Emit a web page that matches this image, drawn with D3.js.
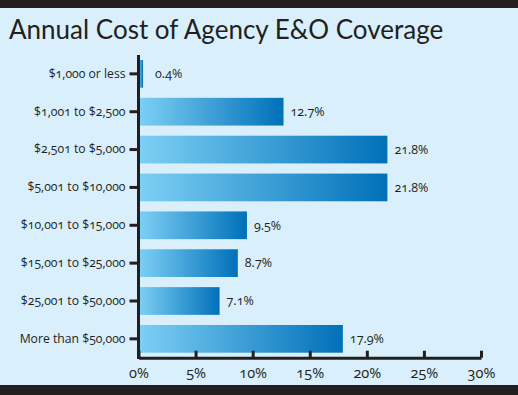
<!DOCTYPE html>
<html>
<head>
<meta charset="utf-8">
<script src="https://cdn.jsdelivr.net/npm/d3@7"></script>
<style>
  body { margin: 0; background: #231f20; }
  svg { display: block; }
  text { font-family: "Open Sans", Lato, sans-serif; fill: #231f20; font-feature-settings: "onum"; }
</style>
</head>
<body>
<script>
var categories = ['$1,000 or less', '$1,001 to $2,500', '$2,501 to $5,000', '$5,001 to $10,000',
  '$10,001 to $15,000', '$15,001 to $25,000', '$25,001 to $50,000', 'More than $50,000'];
var values = [0.4, 12.7, 21.8, 21.8, 9.5, 8.7, 7.1, 17.9];
var xTicks = [0, 5, 10, 15, 20, 25, 30];

var width = 518, height = 395;
var font = '"Open Sans", Lato, sans-serif';
var svg = d3.select('body').append('svg').attr('width', width).attr('height', height);

// background panel between the black bands
svg.append('rect').attr('x', 0).attr('y', 0).attr('width', width).attr('height', height).attr('fill', '#231f20');
svg.append('rect').attr('x', 0).attr('y', 8).attr('width', width).attr('height', 377).attr('fill', '#d9effc');

var grad = svg.append('defs').append('linearGradient').attr('id', 'barGrad')
  .attr('x1', '0%').attr('y1', '0%').attr('x2', '100%').attr('y2', '0%');
grad.append('stop').attr('offset', '0%').attr('stop-color', '#7dd0f5');
grad.append('stop').attr('offset', '100%').attr('stop-color', '#0070b9');

svg.append('text')
  .attr('x', 9).attr('y', 39)
  .attr('font-size', 26)
  .style('font-family', 'Lato, sans-serif')
  .text('Annual Cost of Agency E&O Coverage');

var x = d3.scaleLinear().domain([0, 30]).range([138.5, 481]);
var y = d3.scaleBand().domain(categories).range([55, 357.7])
  .paddingInner(0.268).paddingOuter(0.132);

svg.selectAll('rect.bar').data(values)
  .enter().append('rect')
  .attr('class', 'bar')
  .attr('x', x(0))
  .attr('y', function(d, i) { return y(categories[i]); })
  .attr('width', function(d) { return x(d) - x(0); })
  .attr('height', y.bandwidth())
  .attr('fill', 'url(#barGrad)');

svg.selectAll('text.val').data(values)
  .enter().append('text')
  .attr('class', 'val')
  .attr('x', function(d) { return x(d) + (d < 1 ? 12 : 7); })
  .attr('y', function(d, i) { return y(categories[i]) + y.bandwidth() / 2 + 1; })
  .attr('dominant-baseline', 'middle')
  .attr('font-size', 12.5)
  .text(function(d) { return d.toFixed(1) + '%'; });

// y axis
var yAxis = svg.append('g').attr('transform', 'translate(' + x(0) + ',0)')
  .call(d3.axisLeft(y).tickSize(9).tickPadding(4).tickSizeOuter(0));
yAxis.select('.domain').remove();
yAxis.selectAll('.tick line').attr('stroke', '#231f20').attr('stroke-width', 3);
yAxis.selectAll('.tick text').attr('font-size', 12.2).attr('fill', '#231f20')
  .style('font-family', font);
svg.append('line').attr('x1', x(0)).attr('x2', x(0)).attr('y1', 55).attr('y2', 359)
  .attr('stroke', '#231f20').attr('stroke-width', 3);

// x axis
var xAxis = svg.append('g').attr('transform', 'translate(0,357.7)')
  .call(d3.axisBottom(x).tickValues(xTicks).tickSize(-7).tickPadding(10).tickSizeOuter(0)
    .tickFormat(function(d) { return d + '%'; }));
xAxis.select('.domain').attr('stroke', '#231f20').attr('stroke-width', 3);
xAxis.selectAll('.tick line').attr('stroke', '#231f20').attr('stroke-width', 3);
xAxis.selectAll('.tick text').attr('font-size', 14.5).attr('fill', '#231f20')
  .style('font-family', font);
</script>
</body>
</html>
